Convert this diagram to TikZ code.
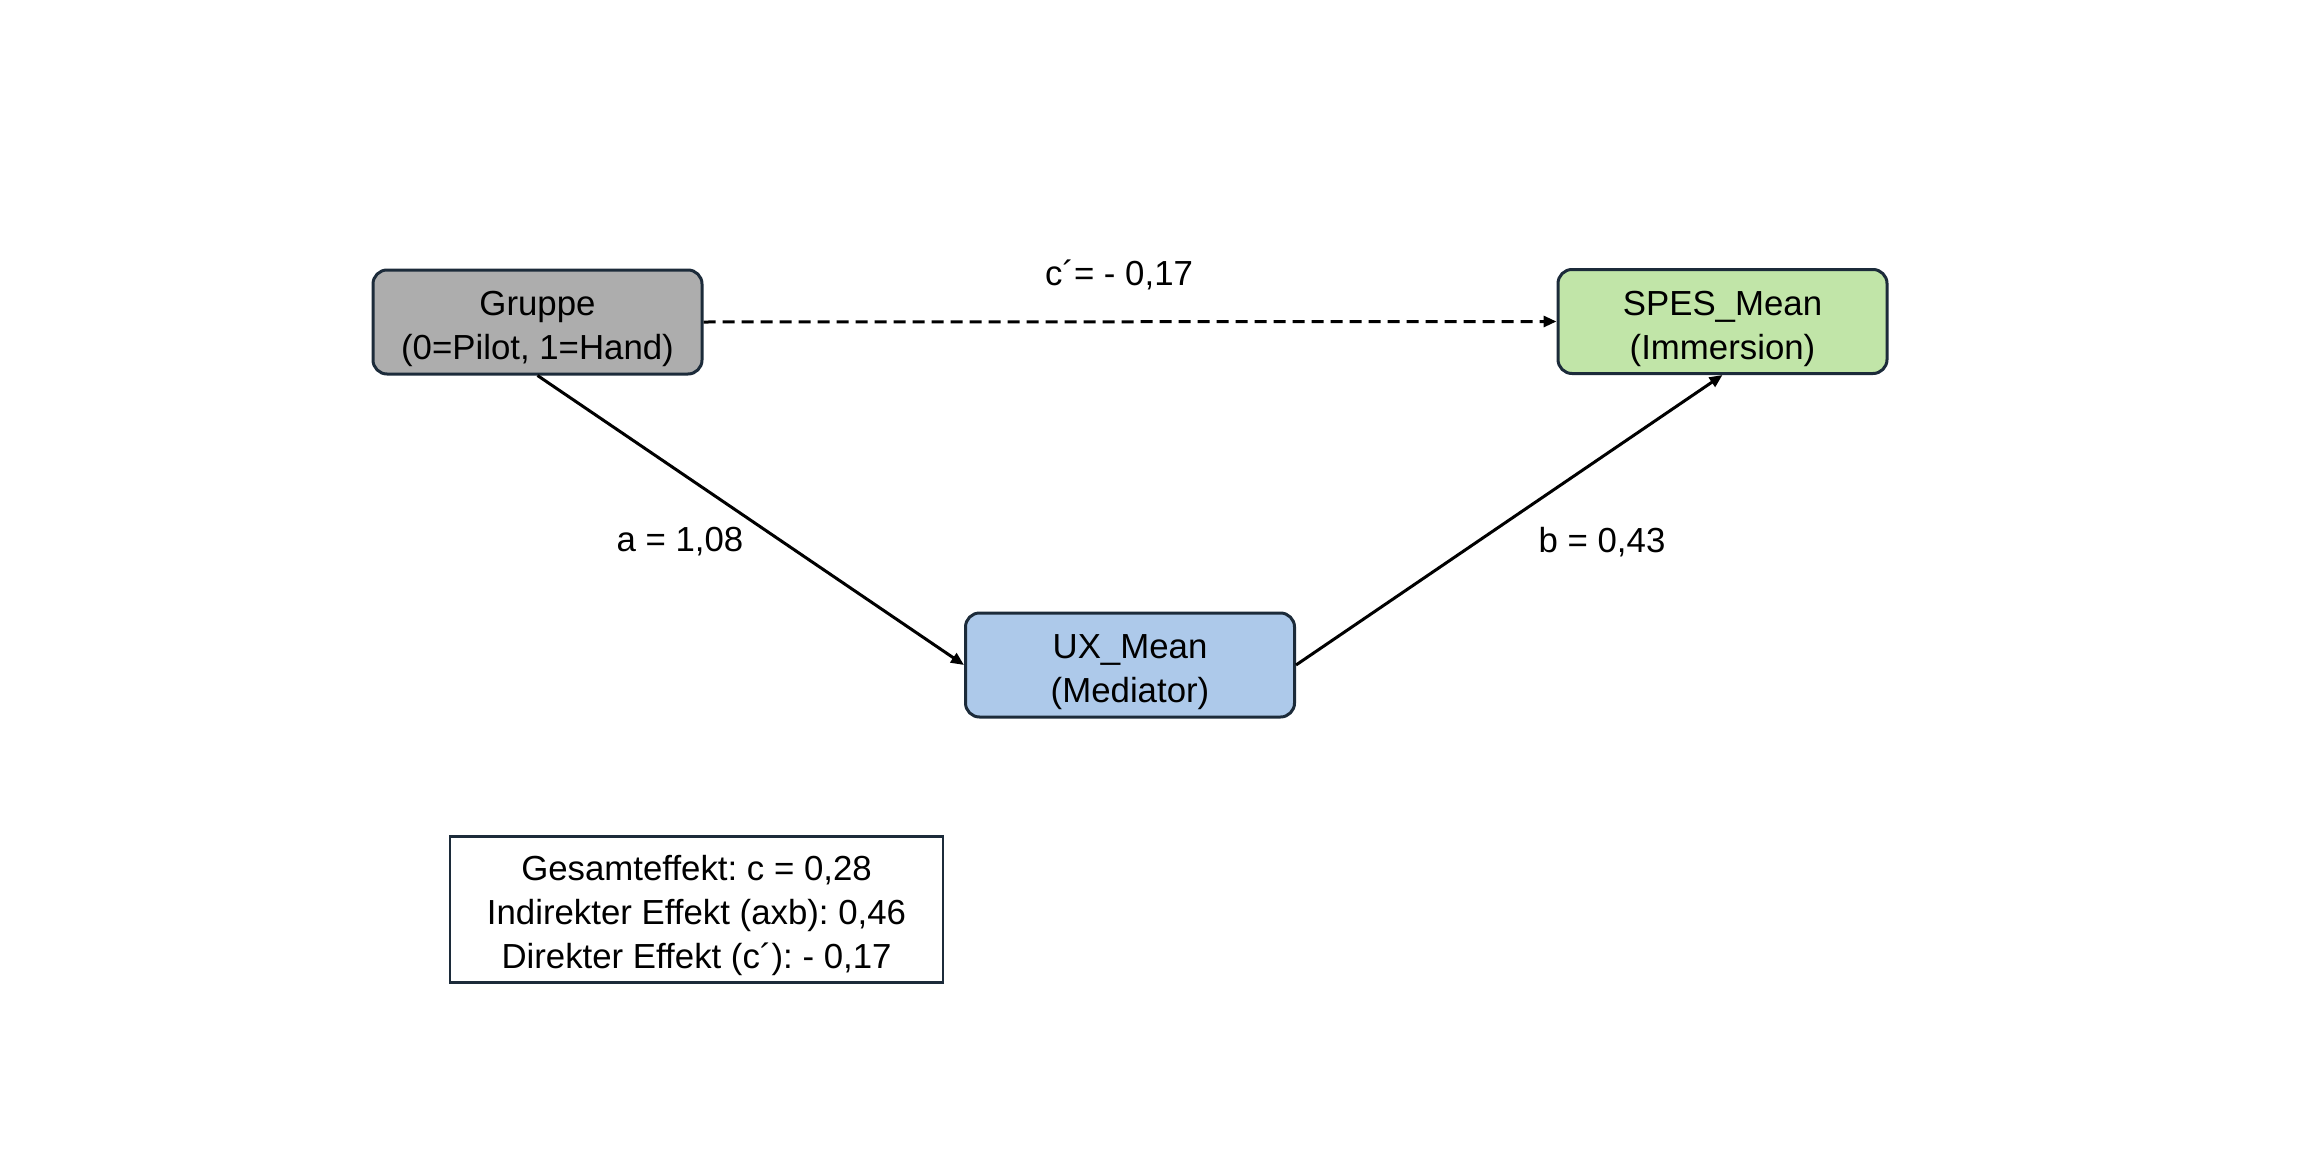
\documentclass[tikz,border=0pt]{standalone}
\usepackage{fontspec}
\setmainfont{Liberation Sans}
\usetikzlibrary{arrows.meta}
\frenchspacing
\definecolor{bordercol}{HTML}{1C2B3A}
\definecolor{grayfill}{HTML}{ADADAD}
\definecolor{greenfill}{HTML}{C1E5A8}
\definecolor{bluefill}{HTML}{ADC9EA}
\newcommand{\topstrut}[1]{\rule{0pt}{#1}}
\begin{document}
\begin{tikzpicture}[x=0.5pt,y=-0.5pt,
  txt/.style={font=\fontsize{17.4}{22}\selectfont},
  varbox/.style={txt, draw=bordercol, line width=1.5pt, rounded corners=7pt,
    minimum width=164.5pt, minimum height=52pt, align=center, inner sep=0pt},
  sumbox/.style={txt, draw=bordercol, line width=1.3pt, fill=white,
    minimum width=246.5pt, minimum height=73pt, align=center, inner sep=0pt},
  conn/.style={line width=1.5pt, -{Triangle[length=6.5pt,width=5.5pt]}},
  lbl/.style={txt, inner sep=0pt}
]
\useasboundingbox (0,0) rectangle (2306,1156);
\node[varbox, fill=grayfill] (g) at (537.5,322) {\topstrut{19.5pt}Gruppe\\(0=Pilot, 1=Hand)};
\node[varbox, fill=greenfill] (s) at (1722.5,321.5) {\topstrut{19.5pt}SPES\_Mean\\(Immersion)};
\node[varbox, fill=bluefill] (u) at (1130,665) {\topstrut{19.5pt}UX\_Mean\\(Mediator)};
\node[sumbox] (sum) at (696.5,909.5) {\topstrut{18.5pt}Gesamteffekt: c = 0,28\\Indirekter Effekt (axb): 0,46\\Direkter Effekt (c´): - 0,17};

\draw[conn, dash pattern=on 6pt off 3.5pt] (g.east) -- (s.west);
\draw[conn] (g.south) -- (u.west);
\draw[conn] (u.east) -- (s.south);

\node[lbl] (lc) at (1119,275) {c´= - 0,17};
\node[lbl] (la) at (680,542) {a = 1,08};
\node[lbl] (lb) at (1602,542) {b = 0,43};
\end{tikzpicture}
\end{document}
